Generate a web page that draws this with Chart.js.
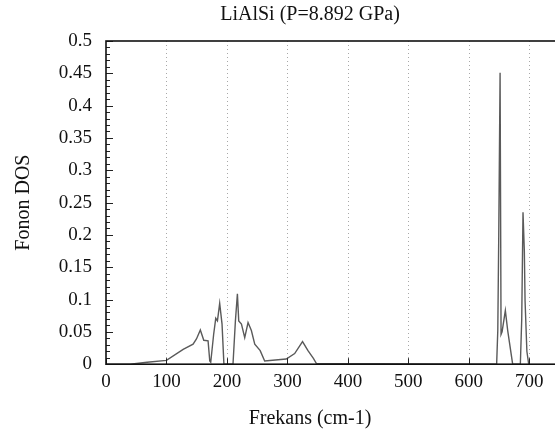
<!DOCTYPE html>
<html>
<head>
<meta charset="utf-8">
<script src="https://cdn.jsdelivr.net/npm/chart.js@4.4.1/dist/chart.umd.min.js"></script>
<style>
  html, body { margin: 0; padding: 0; background: #fff; overflow: hidden; }
  canvas { display: block; }
</style>
</head>
<body>
<canvas id="chart" width="620" height="432"></canvas>
<script>
// phonon DOS
const freq = [0, 40, 68, 100, 127.6, 144, 149.6, 156, 161.7, 168.8, 171.6, 173.2, 178,
  181.5, 184.3, 188, 191.9, 195, 210, 214, 217.3, 219.5, 224, 229.4, 234.9, 240.4,
  246, 255, 262.4, 298, 312, 325, 334, 343, 348,
  646, 647.9, 649.5, 651.7, 653.3, 655, 660.4, 664.3, 672.5,
  685.2, 687.5, 689.6, 691.8, 693, 696, 699];
const dos = [0, 0, 0.003, 0.006, 0.023, 0.031, 0.039, 0.053, 0.037, 0.036, 0.005, 0.003, 0.046,
  0.071, 0.067, 0.094, 0.062, 0, 0, 0.067, 0.109, 0.067, 0.062, 0.041, 0.0645, 0.052,
  0.031, 0.021, 0.005, 0.008, 0.0165, 0.035, 0.021, 0.009, 0.001,
  0, 0.052, 0.2, 0.451, 0.046, 0.05, 0.083, 0.052, 0,
  0, 0.07, 0.235, 0.175, 0.098, 0.02, 0];

const xTicks = [0, 100, 200, 300, 400, 500, 600, 700, 800];
const yLabels = [0, 0.05, 0.1, 0.15, 0.2, 0.25, 0.3, 0.35, 0.4, 0.45, 0.5];

const FONT = "'Liberation Serif', 'DejaVu Serif', serif";
Chart.defaults.font.family = FONT;
Chart.defaults.color = "#111";

var points = freq.map(function (f, i) { return { x: f, y: dos[i] }; });

function isLabel(v) {
  return yLabels.some(function (l) { return Math.abs(l - v) < 1e-6; });
}

// box round the plot, dotted verticals and short inward ticks, like the gnuplot frame
const frame = {
  id: "frame",
  beforeDatasetsDraw: function (chart) {
    var ctx = chart.ctx, a = chart.chartArea, xs = chart.scales.x;
    ctx.save();
    ctx.strokeStyle = "#a8a8a8";
    ctx.lineWidth = 1;
    ctx.setLineDash([1, 3]);
    xs.ticks.forEach(function (t) {
      if (t.value <= 0) return;
      var px = Math.round(xs.getPixelForValue(t.value)) + 0.5;
      ctx.beginPath();
      ctx.moveTo(px, a.top);
      ctx.lineTo(px, a.bottom);
      ctx.stroke();
    });
    ctx.restore();
  },
  afterDraw: function (chart) {
    var ctx = chart.ctx, a = chart.chartArea;
    var ys = chart.scales.y, xs = chart.scales.x;
    ctx.save();
    ctx.strokeStyle = "#222";
    ctx.lineWidth = 1;
    ys.ticks.forEach(function (t) {
      var py = Math.round(ys.getPixelForValue(t.value)) + 0.5;
      var len = isLabel(t.value) ? 7 : 4;
      ctx.beginPath();
      ctx.moveTo(a.left, py);
      ctx.lineTo(a.left + len, py);
      ctx.stroke();
    });
    xs.ticks.forEach(function (t) {
      var px = Math.round(xs.getPixelForValue(t.value)) + 0.5;
      ctx.beginPath();
      ctx.moveTo(px, a.bottom);
      ctx.lineTo(px, a.bottom - 6);
      ctx.stroke();
    });
    ctx.lineWidth = 1.6;
    ctx.strokeStyle = "#111";
    ctx.strokeRect(a.left, a.top, a.right - a.left, a.bottom - a.top);
    ctx.restore();
  }
};

new Chart(document.getElementById("chart"), {
  type: "line",
  data: {
    datasets: [{
      data: points,
      borderColor: "#5a5a5a",
      borderWidth: 1.4,
      pointRadius: 0,
      tension: 0,
      fill: false
    }]
  },
  options: {
    responsive: false,
    animation: false,
    layout: { padding: 0 },
    plugins: {
      legend: { display: false },
      tooltip: { enabled: false },
      title: {
        display: true,
        text: "LiAlSi (P=8.892 GPa)",
        font: { size: 20, weight: "normal" },
        padding: { top: 3, bottom: 14 }
      },
      subtitle: {
        display: true,
        position: "bottom",
        text: "Frekans (cm-1)",
        font: { size: 20 },
        padding: { top: 8, bottom: 1 }
      }
    },
    scales: {
      x: {
        type: "linear",
        min: 0,
        max: 850,
        afterBuildTicks: function (s) {
          s.ticks = xTicks.map(function (v) { return { value: v }; });
        },
        ticks: { font: { size: 19 }, padding: 6, maxRotation: 0 },
        grid: { display: false, drawTicks: false },
        border: { display: false }
      },
      y: {
        min: 0,
        max: 0.5,
        afterFit: function (s) { s.width = 106; },
        ticks: {
          stepSize: 0.01,
          autoSkip: false,
          font: { size: 19 },
          padding: 14,
          callback: function (v) { return isLabel(v) ? String(Math.round(v * 100) / 100) : ""; }
        },
        grid: { display: false, drawTicks: false },
        border: { display: false },
        title: {
          display: true,
          text: "Fonon DOS",
          font: { size: 20 },
          padding: { top: 12, bottom: 0 }
        }
      }
    }
  },
  plugins: [frame]
});
</script>
</body>
</html>
